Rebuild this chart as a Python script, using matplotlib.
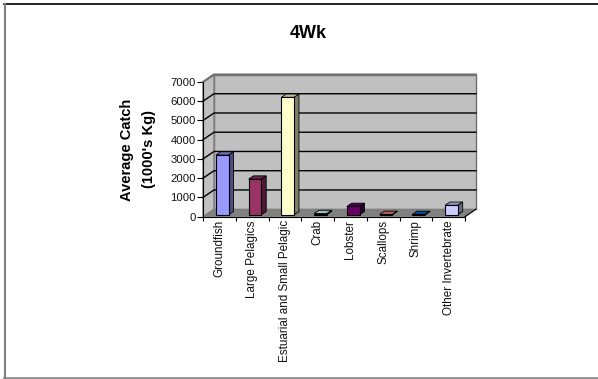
import numpy as np
import matplotlib
matplotlib.use('Agg')
import matplotlib.pyplot as plt
from matplotlib.lines import Line2D
from matplotlib.patches import Polygon

plt.rcParams['font.family'] = ['Liberation Sans', 'DejaVu Sans']

categories = ['Groundfish', 'Large Pelagics', 'Estuarial and Small Pelagic', 'Crab',
              'Lobster', 'Scallops', 'Shrimp', 'Other Invertebrate']
catch = [3100, 1850, 6100, 60, 430, 15, 15, 490]
bar_colors = ['#9999FF', '#993366', '#FFFFCC', '#CCFFFF', '#660066', '#FF8080', '#0066CC', '#CCCCFF']
yticks = [0, 1000, 2000, 3000, 4000, 5000, 6000, 7000]

W, H = 598, 379
fig = plt.figure(figsize=(W / 100, H / 100), dpi=100)

# page outline: top, left and bottom edges only
fig.add_artist(Line2D([4 / W, 598 / W], [1 - 3.5 / H, 1 - 3.5 / H], color='black', lw=1.2))
fig.add_artist(Line2D([4.5 / W, 4.5 / W], [1 - 3.5 / H, 1 - 378 / H], color='#808080', lw=1.5))
fig.add_artist(Line2D([4 / W, 598 / W], [1 - 378 / H, 1 - 378 / H], color='#808080', lw=1.2))

ax = fig.add_axes([203 / W, 1 - 216.7 / H, 262 / W, 134.7 / H])
ax.set_xlim(0, len(categories))
ax.set_ylim(0, 7000)
ax.patch.set_visible(False)
for s in ['top', 'right']:
    ax.spines[s].set_visible(False)

# depth of the fake 3d box, in data units
n = len(categories)
dx = 11 / 32.75
dy = 7.5 / 134.7 * 7000


def add(points, color, ec='none', lw=0.0, z=1):
    ax.add_patch(Polygon(points, closed=True, fc=color, ec=ec, lw=lw, zorder=z, clip_on=False))


# walls and floor
add([(dx, dy), (n + dx, dy), (n + dx, 7000 + dy), (dx, 7000 + dy)], '#C0C0C0', '#707070', 1.0)
add([(0, 0), (dx, dy), (dx, 7000 + dy), (0, 7000)], '#C0C0C0', '#808080', 1.0)
add([(0, 0), (n, 0), (n + dx, dy), (dx, dy)], '#808080', '#808080', 0.5)

# gridlines run along the left wall and across the back
for t in yticks[1:-1]:
    ax.plot([0, dx, n + dx], [t, t + dy, t + dy], color='black', lw=1.0, zorder=2, clip_on=False)
ax.plot([0, dx, n + dx], [7000, 7000 + dy, 7000 + dy], color='#707070', lw=1.5, zorder=2, clip_on=False)
ax.plot([n, n + dx], [0, dy], color='black', lw=0.8, zorder=2, clip_on=False)

# bars: front faces through ax.bar, top and side built from the same values
bw = 0.39
x = np.arange(n) + 0.5 + 0.27 * dx
base = 0.27 * dy
bars = ax.bar(x, catch, width=bw, bottom=base, color=bar_colors, edgecolor='black', linewidth=0.8, zorder=5)
ddx = 0.43 * dx
ddy = 0.43 * dy
for xi, v, c in zip(x, catch, bar_colors):
    rgb = np.array(matplotlib.colors.to_rgb(c))
    l, r = xi - bw / 2, xi + bw / 2
    t = base + v
    add([(l, t), (r, t), (r + ddx, t + ddy), (l + ddx, t + ddy)], rgb * 0.75, 'black', 0.6, 4)
    add([(r, base), (r + ddx, base + ddy), (r + ddx, t + ddy), (r, t)], rgb * 0.5, 'black', 0.6, 4)

ax.set_yticks(yticks)
ax.set_xticks(np.arange(n + 1))
ax.set_xticklabels([])
ax.set_xticks(np.arange(n) + 0.5, minor=True)
ax.set_xticklabels(categories, minor=True, rotation=90, fontsize=8.4, color='#111111')
ax.tick_params(axis='x', which='minor', length=0, pad=2.5)
ax.tick_params(axis='x', which='major', length=3, width=0.8)
ax.tick_params(axis='y', length=4, width=0.8, labelsize=8.1, pad=1.0, labelcolor='#111111')

fig.text(308 / W, 1 - 33 / H, '4Wk', ha='center', va='center', fontsize=13, fontweight='bold')
fig.text(127 / W, 1 - 150 / H, 'Average Catch', ha='center', va='center',
         rotation=90, fontsize=10.5, fontweight='bold')
fig.text(149 / W, 1 - 149 / H, "(1000's Kg)", ha='center', va='center',
         rotation=90, fontsize=10.5, fontweight='bold')

fig.savefig('out.png', dpi=100)
